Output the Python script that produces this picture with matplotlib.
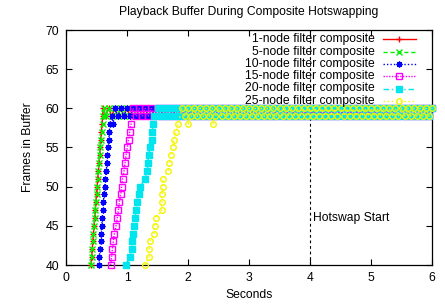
import matplotlib
matplotlib.use("Agg")
import matplotlib.pyplot as plt

plt.rcParams['font.family'] = ['Liberation Sans', 'DejaVu Sans']
FS = 8.7

# ---------------- data ----------------
labels = ["1-node filter composite", "5-node filter composite", "10-node filter composite",
          "15-node filter composite", "20-node filter composite", "25-node filter composite"]
colors = ["#ff0000", "#00ee00", "#0000ff", "#ff00ff", "#00e5ee", "#f5f500"]

# ramp-up phase (seconds, frames)
ramp_t = [
    [0.41, 0.42, 0.43, 0.44, 0.45, 0.46, 0.47, 0.48, 0.49, 0.50, 0.51, 0.52, 0.53, 0.54, 0.55,
     0.56, 0.57, 0.58, 0.59, 0.60, 0.61],
    [0.41, 0.42, 0.43, 0.44, 0.45, 0.46, 0.47, 0.475, 0.49, 0.50, 0.51, 0.52, 0.53, 0.54, 0.55,
     0.56, 0.575, 0.59, 0.60, 0.61, 0.62],
    [0.54, 0.545, 0.557, 0.568, 0.575, 0.585, 0.596, 0.604, 0.612, 0.623, 0.634, 0.645, 0.66,
     0.67, 0.68, 0.69, 0.70, 0.71, 0.72],
    [0.732, 0.748, 0.760, 0.776, 0.792, 0.820, 0.841, 0.858, 0.874, 0.896, 0.913, 0.929, 0.951,
     0.967, 0.984, 1.005, 1.027, 1.044, 1.066],
    [0.984, 1.049, 1.077, 1.087, 1.104, 1.115, 1.131, 1.148, 1.169, 1.202, 1.213, 1.295, 1.333,
     1.344, 1.355, 1.377, 1.404, 1.415, 1.43],
    [1.295, 1.362, 1.366, 1.370, 1.443, 1.459, 1.475, 1.568, 1.574, 1.579, 1.585, 1.596, 1.678,
     1.694, 1.716, 1.749, 1.770, 1.803, 1.841],
]
ramp_v = [
    [40, 41, 42, 43, 44, 45, 46, 47, 48, 49, 50, 51, 52, 53, 54, 55, 56, 57, 58, 59, 60],
    [40, 41, 42, 43, 44, 45, 46, 47, 48, 49, 50, 51, 52, 53, 54, 55, 56, 57, 58, 59, 60],
    [40, 41, 42, 43, 44, 45, 46, 47, 48, 49, 50, 51, 52, 53, 54, 55, 56, 57, 58],
    [40, 41, 42, 43, 44, 45, 46, 47, 48, 49, 50, 51, 52, 53, 54, 55, 56, 57, 58],
    [40, 41, 42, 43, 44, 45, 46, 47, 48, 49, 50, 51, 52, 53, 54, 55, 56, 57, 58],
    [40, 41, 42, 43, 44, 45, 46, 47, 48, 49, 50, 51, 52, 53, 54, 55, 56, 57, 58],
]

# occasional dips below the steady band
dip_t = [[], [], [0.775], [], [], [2.005, 2.415]]
dip_v = [[], [], [58], [], [], [58, 58]]

# time at which each series enters the steady band
steady_start = [0.62, 0.63, 0.73, 1.08, 1.44, 1.86]

# steady-state buffer level (oscillating between 59 and 60)
plateau_t = [0.60, 0.65, 0.70, 0.75, 0.80, 0.85, 0.90, 0.95, 1.00, 1.05, 1.10, 1.15, 1.20, 1.25,
             1.30, 1.35, 1.40, 1.45, 1.50, 1.55, 1.60, 1.65, 1.70, 1.75, 1.80, 1.85, 1.90, 1.95,
             2.00, 2.05, 2.10, 2.15, 2.20, 2.25, 2.30, 2.35, 2.40, 2.45, 2.50, 2.55, 2.60, 2.65,
             2.70, 2.75, 2.80, 2.85, 2.90, 2.95, 3.00, 3.05, 3.10, 3.15, 3.20, 3.25, 3.30, 3.35,
             3.40, 3.45, 3.50, 3.55, 3.60, 3.65, 3.70, 3.75, 3.80, 3.85, 3.90, 3.95, 4.00, 4.05,
             4.10, 4.15, 4.20, 4.25, 4.30, 4.35, 4.40, 4.45, 4.50, 4.55, 4.60, 4.65, 4.70, 4.75,
             4.80, 4.85, 4.90, 4.95, 5.00, 5.05, 5.10, 5.15, 5.20, 5.25, 5.30, 5.35, 5.40, 5.45,
             5.50, 5.55, 5.60, 5.65, 5.70, 5.75, 5.80, 5.85, 5.90, 5.95, 6.00]
plateau_v = [60, 59, 60, 59, 60, 59, 60, 59, 60, 59, 60, 59, 60, 59, 60, 59, 60, 59, 60, 59, 60,
             59, 60, 59, 60, 59, 60, 59, 60, 59, 60, 59, 60, 59, 60, 59, 60, 59, 60, 59, 60, 59,
             60, 59, 60, 59, 60, 59, 60, 59, 60, 59, 60, 59, 60, 59, 60, 59, 60, 59, 60, 59, 60,
             59, 60, 59, 60, 59, 60, 59, 60, 59, 60, 59, 60, 59, 60, 59, 60, 59, 60, 59, 60, 59,
             60, 59, 60, 59, 60, 59, 60, 59, 60, 59, 60, 59, 60, 59, 60, 59, 60, 59, 60, 59, 60,
             59, 60, 59, 60]

hotswap_time = 4

xticks = [0, 1, 2, 3, 4, 5, 6]
yticks = [40, 45, 50, 55, 60, 65, 70]

markers = ['+', 'x', (8, 2, 0), 's', 's', 'o']
fills = ['full', 'full', 'full', 'none', 'full', 'none']
msizes = [5, 4, 4.2, 3.8, 3.8, 4]
styles = ['-', (0, (3, 2)), (0, (1, 1.5)), (0, (1, 1)), (0, (4, 2, 1, 2)), (0, (1, 2))]

# ---------------- figure ----------------
fig = plt.figure(figsize=(4.45, 3.05), dpi=100)
ax = fig.add_axes([66 / 445, 40 / 305, 366 / 445, 235 / 305])

for i in range(6):
    pts = list(zip(ramp_t[i], ramp_v[i])) + list(zip(dip_t[i], dip_v[i]))
    pts += [(t, v) for t, v in zip(plateau_t, plateau_v) if t >= steady_start[i]]
    pts.sort(key=lambda p: p[0])
    xs = [p[0] for p in pts]
    ys = [p[1] for p in pts]
    ax.plot(xs, ys, color=colors[i], linestyle=styles[i], linewidth=1,
            marker=markers[i], markersize=msizes[i], fillstyle=fills[i],
            markeredgewidth=1, clip_on=False, zorder=3 + i)

ax.axvline(hotswap_time, color='black', linestyle=(0, (2.5, 2.5)), linewidth=0.8, zorder=2)
ax.text(hotswap_time + 0.05, 45.2, "Hotswap Start", fontsize=FS, ha='left', va='bottom')

ax.set_xlim(0, 6)
ax.set_ylim(40, 70)
ax.set_xticks(xticks)
ax.set_yticks(yticks)
ax.tick_params(direction='in', length=4, width=0.8, top=True, right=True, labelsize=FS, pad=5)
for s in ax.spines.values():
    s.set_linewidth(0.9)

ax.set_title("Playback Buffer During Composite Hotswapping", fontsize=FS, pad=11)
ax.set_xlabel("Seconds", fontsize=FS, labelpad=4)
ax.set_ylabel("Frames in Buffer", fontsize=FS, labelpad=8)

# gnuplot-style legend (text right aligned, sample to the right)
ax_w, ax_h = 366.0, 235.0
row_y = [39.3, 51.6, 63.9, 76.2, 88.5, 100.8]
text_x = (375 - 66) / ax_w
s0 = (383 - 66) / ax_w
s1 = (416 - 66) / ax_w
sm = (399 - 66) / ax_w
for i in range(6):
    yy = 1 - (row_y[i] - 30) / ax_h
    ax.text(text_x, yy, labels[i], transform=ax.transAxes, ha='right', va='center',
            fontsize=FS, zorder=20)
    ax.plot([s0, sm, s1], [yy, yy, yy], transform=ax.transAxes, color=colors[i],
            linestyle=styles[i], linewidth=1, marker=markers[i], markersize=msizes[i],
            fillstyle=fills[i], markeredgewidth=1, markevery=[1], clip_on=False, zorder=20)

fig.savefig("out.png", dpi=100)
